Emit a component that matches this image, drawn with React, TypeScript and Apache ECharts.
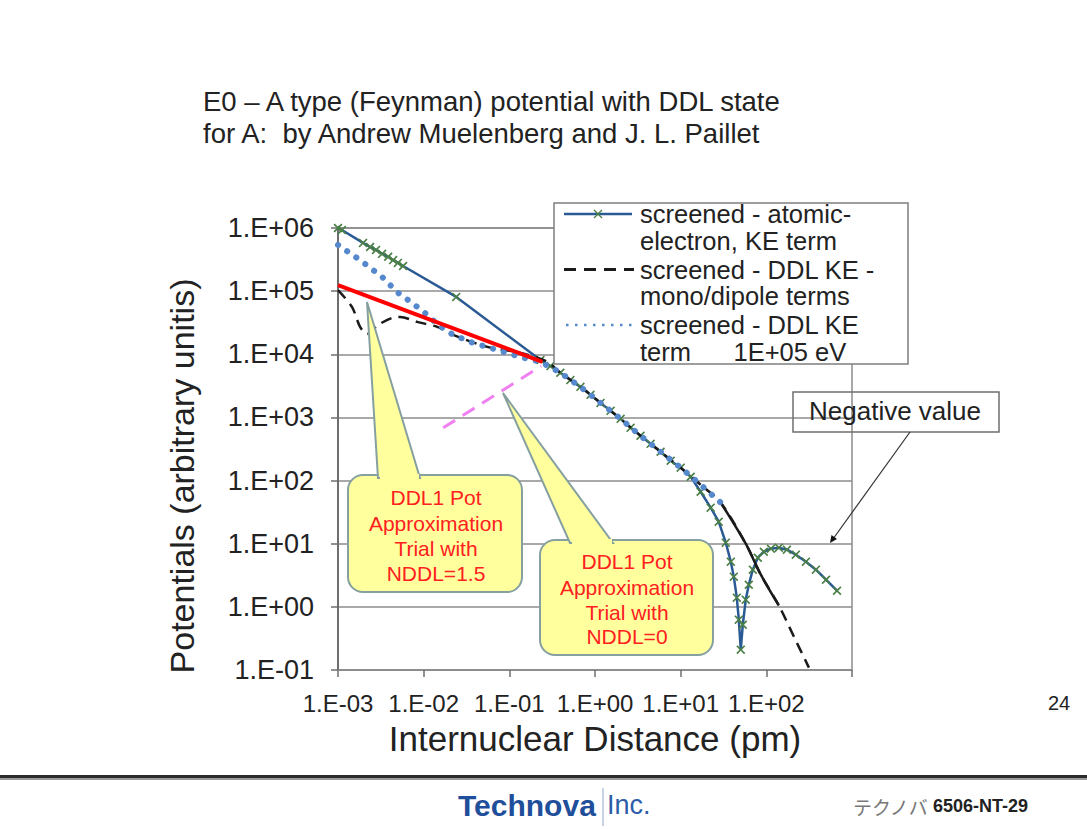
import React, { useEffect, useRef } from "react";
import * as echarts from "echarts";

const FONT = '"Liberation Sans", Arial, Helvetica, sans-serif';

// ---------- texts ----------
const titleLines = [
  "E0 \u2013 A type (Feynman) potential with DDL state",
  "for A:  by Andrew Muelenberg and J. L. Paillet",
];
const xAxisTitle = "Internuclear Distance (pm)";
const yAxisTitle = "Potentials (arbitrary unitis)";
const xTickLabels = ["1.E-03", "1.E-02", "1.E-01", "1.E+00", "1.E+01", "1.E+02", ""];
const yTickLabels = ["1.E-01", "1.E+00", "1.E+01", "1.E+02", "1.E+03", "1.E+04", "1.E+05", "1.E+06"];
const legendNames = [
  "screened - atomic-electron, KE term",
  "screened - DDL KE - mono/dipole terms",
  "screened - DDL KE term 1E+05 eV",
];
const legendLines = [
  ["screened - atomic-", "electron, KE term"],
  ["screened - DDL KE -", "mono/dipole terms"],
  ["screened - DDL KE", "term      1E+05 eV"],
];
const callout15Lines = ["DDL1 Pot", "Approximation", "Trial with", "NDDL=1.5"];
const callout0Lines = ["DDL1 Pot", "Approximation", "Trial with", "NDDL=0"];
const noteText = "Negative value";
const pageNumber = "24";

// ---------- data ----------
const atomicX = [
  1.0e-3, 1.11e-3, 1.96e-3, 2.37e-3, 2.78e-3, 3.27e-3, 3.85e-3, 4.4e-3, 5.0e-3, 5.75e-3,
  2.4e-2, 0.231, 0.302, 0.394, 0.516, 0.676, 0.885, 1.16, 1.52, 1.99,
  2.6, 3.4, 4.46, 5.83, 7.64, 10.0, 13.1, 17.1, 22.4, 27.8,
  33.6, 38.5, 41.7, 45.2, 47.7, 50.3, 53.1, 57.5, 62.4, 69.5,
  79.6, 93.5, 113, 140, 174, 221, 290, 379, 497, 668,
];
const atomicY = [
  1.0e6, 9.3e5, 5.8e5, 5.0e5, 4.5e5, 3.9e5, 3.5e5, 3.1e5, 2.8e5, 2.5e5,
  8.1e4, 8.1e3, 6.5e3, 5.1e3, 3.9e3, 3.05e3, 2.28e3, 1.7e3, 1.27e3, 950,
  684, 512, 382, 286, 206, 160, 115, 66.5, 37.2, 22.3,
  10.4, 5.19, 3.01, 1.4, 0.627, 0.21, 0.52, 1.3, 2.24, 3.88,
  6.0, 7.46, 8.34, 8.65, 8.04, 6.7, 5.19, 3.88, 2.69, 1.8,
];

const monoDipoleX = [
  1.0e-3, 1.46e-3, 1.81e-3, 2.18e-3, 2.94e-3, 4.28e-3, 5.31e-3, 8.4e-3, 1.44e-2, 2.21e-2,
  5.53e-2, 0.135, 0.278, 0.394, 0.676, 1.16, 1.99, 3.4, 5.83, 10.0,
  17.1, 29.4, 57.5, 86.3, 140, 210, 314,
];
const monoDipoleY = [
  1.04e5, 5.6e4, 2.72e4, 2.1e4, 2.92e4, 3.77e4, 3.9e4, 3.26e4, 2.72e4, 2.03e4,
  1.31e4, 1.05e4, 7.6e3, 5.1e3, 3.05e3, 1.7e3, 950, 512, 286, 160,
  86, 44.6, 10, 3.23, 1.05, 0.337, 0.109,
];
const monoDipoleTailX = [29.4, 57.5, 86.3, 140];
const monoDipoleTailY = [44.6, 10, 3.23, 1.05];

const ddlKeX = [
  1.0e-3, 1.81e-3, 2.57e-3, 3.27e-3, 4.06e-3, 5.03e-3, 7.33e-3, 1.04e-2, 1.48e-2, 2.21e-2,
  3.79e-2, 6.0e-2, 9.5e-2, 0.146, 0.231, 0.394, 0.676, 1.16, 1.99, 3.4,
  5.83, 10.0, 17.1, 29.4,
];
const ddlKeY = [
  5.4e5, 3.1e5, 2.16e5, 1.68e5, 1.25e5, 9.4e4, 6.5e4, 4.5e4, 2.92e4, 2.03e4,
  1.51e4, 1.26e4, 1.05e4, 8.8e3, 7.6e3, 5.1e3, 3.05e3, 1.7e3, 950, 512,
  286, 160, 86, 44.6,
];

const trial15X = [1.0e-3, 0.243];
const trial15Y = [1.25e5, 7.6e3];
const trial0X = [1.69e-2, 0.235];
const trial0Y = [684, 6.5e3];

const pairs = (xs: number[], ys: number[]) => xs.map((x, i) => [x, ys[i]]);

const X_SYMBOL =
  "path://M0,1.3L1.3,0L5,3.7L8.7,0L10,1.3L6.3,5L10,8.7L8.7,10L5,6.3L1.3,10L0,8.7L3.7,5Z";

const ATOMIC_LINE = "#2A5A94";
const ATOMIC_MARK = "#4A7F45";
const MONO_COLOR = "#1a1a1a";
const DDL_COLOR = "#5588CC";
const CALL_FILL = "#FFFF9E";
const CALL_STROKE = "#86A0A0";
const CALL_TEXT = "#FF2020";
const TXT = "#222222";

function calloutElements(
  box: [number, number, number, number],
  wedge: number[][],
  lines: string[],
  cx: number,
  ys: number[]
) {
  const [bx, by, bw, bh] = box;
  const baseL = wedge[1][0];
  const baseR = wedge[2][0];
  const els: any[] = [
    {
      type: "rect",
      z: 100,
      shape: { x: bx, y: by, width: bw, height: bh, r: 15 },
      style: { fill: CALL_FILL, stroke: CALL_STROKE, lineWidth: 2 },
    },
    {
      type: "polygon",
      z: 101,
      shape: { points: [wedge[0], [wedge[1][0], wedge[1][1] + 3], [wedge[2][0], wedge[2][1] + 3]] },
      style: { fill: CALL_FILL, stroke: CALL_STROKE, lineWidth: 2 },
    },
    {
      type: "rect",
      z: 102,
      shape: { x: baseL + 2, y: by - 1, width: baseR - baseL - 3, height: 6 },
      style: { fill: CALL_FILL },
    },
  ];
  lines.forEach((t, i) => {
    els.push({
      type: "text",
      z: 103,
      x: cx,
      y: ys[i],
      style: {
        text: t,
        fill: CALL_TEXT,
        fontSize: 21,
        fontFamily: FONT,
        align: "center",
        verticalAlign: "middle",
      },
    });
  });
  return els;
}

export default function App() {
  const ref = useRef<HTMLDivElement>(null);

  useEffect(() => {
    if (!ref.current) return;
    const chart = echarts.init(ref.current, undefined, { renderer: "svg" });

    const graphics: any[] = [];

    // title box
    graphics.push({
      type: "rect",
      z: 90,
      shape: { x: 192, y: 78, width: 611, height: 74 },
      style: { fill: "#ffffff" },
    });
    titleLines.forEach((t, i) => {
      graphics.push({
        type: "text",
        z: 91,
        x: 203,
        y: 101 + i * 32,
        style: { text: t, fill: TXT, fontSize: 27.5, fontFamily: FONT, verticalAlign: "middle" },
      });
    });

    // legend
    graphics.push({
      type: "rect",
      z: 110,
      shape: { x: 554, y: 203, width: 354, height: 161 },
      style: { fill: "#ffffff", stroke: "#7f7f7f", lineWidth: 1.5 },
    });
    const legendY = [214, 269.5, 325];
    graphics.push({
      type: "line",
      z: 111,
      shape: { x1: 564, y1: legendY[0], x2: 632, y2: legendY[0] },
      style: { stroke: ATOMIC_LINE, lineWidth: 2.5 },
    });
    graphics.push({
      type: "line",
      z: 112,
      shape: { x1: 594, y1: legendY[0] - 4, x2: 602, y2: legendY[0] + 4 },
      style: { stroke: ATOMIC_MARK, lineWidth: 1.3 },
    });
    graphics.push({
      type: "line",
      z: 112,
      shape: { x1: 594, y1: legendY[0] + 4, x2: 602, y2: legendY[0] - 4 },
      style: { stroke: ATOMIC_MARK, lineWidth: 1.3 },
    });
    graphics.push({
      type: "line",
      z: 111,
      shape: { x1: 564, y1: legendY[1], x2: 634, y2: legendY[1] },
      style: { stroke: MONO_COLOR, lineWidth: 3, lineDash: [12, 8] },
    });
    graphics.push({
      type: "line",
      z: 111,
      shape: { x1: 566, y1: legendY[2], x2: 632, y2: legendY[2] },
      style: { stroke: DDL_COLOR, lineWidth: 2.5, lineDash: [2.5, 6.5] },
    });
    legendLines.forEach((pair, k) => {
      graphics.push({
        type: "text",
        z: 113,
        x: 640,
        y: legendY[k] - 13,
        style: {
          text: pair.join("\n"),
          fill: TXT,
          fontSize: 25.5,
          lineHeight: 26.5,
          fontFamily: FONT,
          verticalAlign: "top",
        },
      });
    });

    // callouts
    graphics.push(
      ...calloutElements(
        [348, 475, 174, 117],
        [[367, 302], [378, 475], [420, 475]],
        callout15Lines,
        436,
        [497, 523, 548, 573]
      )
    );
    graphics.push(
      ...calloutElements(
        [540, 540, 173, 115],
        [[503, 393], [570, 540], [613, 540]],
        callout0Lines,
        627,
        [561, 587, 612, 636]
      )
    );

    // negative value note
    graphics.push({
      type: "rect",
      z: 100,
      shape: { x: 793, y: 392, width: 206, height: 40 },
      style: { fill: "none", stroke: "#6f6f6f", lineWidth: 1.5 },
    });
    graphics.push({
      type: "text",
      z: 101,
      x: 895,
      y: 411,
      style: { text: noteText, fill: TXT, fontSize: 26, fontFamily: FONT, align: "center", verticalAlign: "middle" },
    });
    graphics.push({
      type: "line",
      z: 101,
      shape: { x1: 910, y1: 432, x2: 833, y2: 539 },
      style: { stroke: "#333333", lineWidth: 1.2 },
    });
    graphics.push({
      type: "polygon",
      z: 101,
      shape: { points: [[830, 543], [837, 539], [831.5, 535]] },
      style: { fill: "#111111" },
    });

    // page number
    graphics.push({
      type: "text",
      z: 100,
      x: 1059,
      y: 703,
      style: { text: pageNumber, fill: TXT, fontSize: 20, fontFamily: FONT, align: "center", verticalAlign: "middle" },
    });

    // footer
    graphics.push({ type: "rect", z: 100, shape: { x: 0, y: 775, width: 1087, height: 3 }, style: { fill: "#2b2b2b" } });
    graphics.push({ type: "rect", z: 100, shape: { x: 0, y: 778, width: 1087, height: 2 }, style: { fill: "#9a9a9a" } });
    graphics.push({
      type: "text",
      z: 100,
      x: 458,
      y: 805,
      style: {
        text: "Technova",
        fill: "#1F4E9A",
        fontSize: 30,
        fontWeight: "bold",
        fontFamily: FONT,
        verticalAlign: "middle",
      },
    });
    graphics.push({
      type: "line",
      z: 100,
      shape: { x1: 603, y1: 788, x2: 603, y2: 826 },
      style: { stroke: "#8FA6CC", lineWidth: 1 },
    });
    graphics.push({
      type: "text",
      z: 100,
      x: 607,
      y: 805,
      style: { text: "Inc.", fill: "#2D5CA8", fontSize: 27, fontFamily: FONT, verticalAlign: "middle" },
    });
    graphics.push({
      type: "text",
      z: 100,
      x: 853,
      y: 806,
      style: {
        text: "テクノバ",
        fill: "#777777",
        fontSize: 19,
        fontFamily: '"Noto Sans CJK JP", sans-serif',
        verticalAlign: "middle",
      },
    });
    graphics.push({
      type: "text",
      z: 100,
      x: 933,
      y: 806,
      style: {
        text: "6506-NT-29",
        fill: "#222222",
        fontSize: 18,
        fontWeight: "bold",
        fontFamily: FONT,
        verticalAlign: "middle",
      },
    });

    const option: any = {
      animation: false,
      backgroundColor: "#ffffff",
      textStyle: { fontFamily: FONT },
      grid: {
        left: 338,
        right: 235,
        top: 228,
        bottom: 159,
        show: true,
        borderColor: "#8c8c8c",
        borderWidth: 1.5,
        backgroundColor: "transparent",
      },
      xAxis: {
        type: "log",
        logBase: 10,
        min: 1e-3,
        max: 1e3,
        splitNumber: 6,
        axisLine: { show: true, lineStyle: { color: "#8c8c8c", width: 1.5 } },
        axisTick: { show: true, length: 7, lineStyle: { color: "#6e6e6e", width: 1.5 } },
        splitLine: { show: false },
        minorTick: { show: false },
        axisLabel: {
          fontSize: 24,
          color: TXT,
          fontFamily: FONT,
          margin: 21,
          formatter: (v: number) => xTickLabels[Math.round(Math.log10(v)) + 3] ?? "",
        },
        name: xAxisTitle,
        nameLocation: "middle",
        nameGap: 51,
        nameTextStyle: { fontSize: 35, color: TXT, fontFamily: FONT },
      },
      yAxis: {
        type: "log",
        logBase: 10,
        min: 0.1,
        max: 1e6,
        splitNumber: 7,
        axisLine: { show: true, lineStyle: { color: "#6e6e6e", width: 2 } },
        axisTick: { show: true, length: 7, lineStyle: { color: "#6e6e6e", width: 1.5 } },
        splitLine: { show: true, lineStyle: { color: "#8c8c8c", width: 1.5 } },
        minorTick: { show: false },
        axisLabel: {
          fontSize: 27,
          color: TXT,
          fontFamily: FONT,
          margin: 24,
          formatter: (v: number) => yTickLabels[Math.round(Math.log10(v)) + 1] ?? "",
        },
        name: yAxisTitle,
        nameLocation: "middle",
        nameGap: 139,
        nameTextStyle: { fontSize: 34, color: TXT, fontFamily: FONT, padding: [0, 54, 0, 0] },
      },
      series: [
        {
          name: legendNames[0],
          type: "line",
          data: pairs(atomicX, atomicY),
          symbol: X_SYMBOL,
          symbolSize: 9,
          showSymbol: true,
          showAllSymbol: true,
          itemStyle: { color: ATOMIC_MARK },
          lineStyle: { color: ATOMIC_LINE, width: 2.5 },
          z: 2,
        },
        {
          name: legendNames[1],
          type: "line",
          data: pairs(monoDipoleX, monoDipoleY),
          symbol: "none",
          smooth: 0.3,
          lineStyle: { color: MONO_COLOR, width: 2.5, type: [11, 7] },
          z: 3,
        },
        {
          type: "line",
          data: pairs(monoDipoleTailX, monoDipoleTailY),
          symbol: "none",
          smooth: 0.3,
          lineStyle: { color: MONO_COLOR, width: 2.5 },
          z: 3,
        },
        {
          name: legendNames[2],
          type: "line",
          data: pairs(ddlKeX, ddlKeY),
          symbol: "none",
          lineStyle: { color: DDL_COLOR, width: 6, type: [0.1, 11], cap: "round" },
          z: 4,
        },
        {
          type: "line",
          data: pairs(trial15X, trial15Y),
          symbol: "none",
          lineStyle: { color: "#FF0000", width: 4 },
          z: 5,
        },
        {
          type: "line",
          data: pairs(trial0X, trial0Y),
          symbol: "none",
          lineStyle: { color: "#F080F0", width: 3, type: [14, 9] },
          z: 5,
        },
      ],
      graphic: { elements: graphics },
    };

    chart.setOption(option);
    return () => chart.dispose();
  }, []);

  return (
    <div
      ref={ref}
      style={{ position: "absolute", left: 0, top: 0, width: 1087, height: 829, background: "#ffffff" }}
    />
  );
}
